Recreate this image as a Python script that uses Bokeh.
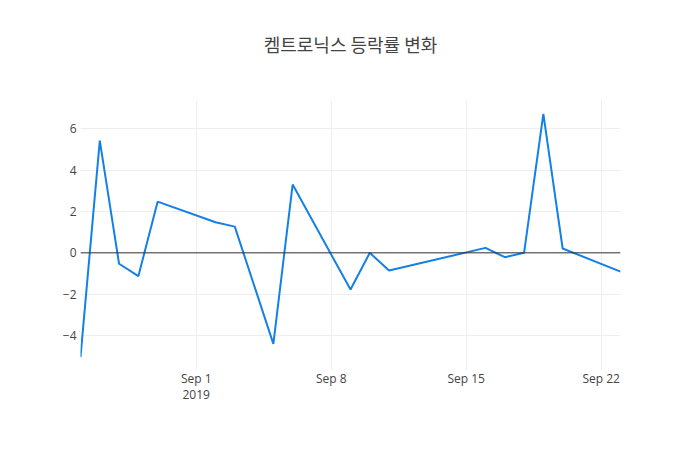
from datetime import datetime

from bokeh.embed import file_html
from bokeh.models import (ColumnDataSource, DatetimeAxis, FixedTicker, LinearAxis,
                          Range1d, Span)
from bokeh.plotting import figure
from bokeh.resources import INLINE

# 켐트로닉스 daily change (%)
dates = ["2019-08-26", "2019-08-27", "2019-08-28", "2019-08-29", "2019-08-30",
         "2019-09-02", "2019-09-03", "2019-09-05", "2019-09-06", "2019-09-09",
         "2019-09-10", "2019-09-11", "2019-09-16", "2019-09-17", "2019-09-18",
         "2019-09-19", "2019-09-20", "2019-09-23"]
change = [-5.05, 5.44, -0.53, -1.13, 2.48,
          1.48, 1.27, -4.41, 3.31, -1.78,
          0.0, -0.86, 0.24, -0.21, 0.0,
          6.73, 0.21, -0.91]

x_ticks = ["2019-09-01", "2019-09-08", "2019-09-15", "2019-09-22"]
x_tick_labels = ["Sep 1", "Sep 8", "Sep 15", "Sep 22"]
year_tick = "2019-09-01"
year_label = "2019"
y_ticks = [-4, -2, 0, 2, 4, 6]

title_text = "켐트로닉스 등락률 변화"
title_font = "Noto Sans CJK KR"
tick_font = "Open Sans"
grey = "#444444"

xs = [datetime.strptime(d, "%Y-%m-%d") for d in dates]
src = ColumnDataSource(data=dict(x=xs, y=change))


def ms(d):
    return datetime.strptime(d, "%Y-%m-%d").timestamp() * 1000


p = figure(width=684, height=434, x_axis_type="datetime",
           x_range=Range1d(xs[0], xs[-1]), y_range=Range1d(-5.70, 7.38),
           output_backend="svg", toolbar_location=None,
           min_border_left=80, min_border_right=64,
           min_border_top=100, min_border_bottom=64)

date_axis = p.xaxis[0]
value_axis = p.yaxis[0]

p.line("x", "y", source=src, line_color="#1380e8", line_width=2)

# zero line
p.add_layout(Span(location=0, dimension="width", line_color="#333333", line_width=1))

p.outline_line_color = None
p.xgrid.grid_line_color = "#eeeeee"
p.ygrid.grid_line_color = "#eeeeee"

date_axis.ticker = FixedTicker(ticks=[ms(d) for d in x_ticks])
date_axis.major_label_overrides = {ms(d): lab for d, lab in zip(x_ticks, x_tick_labels)}
value_axis.ticker = FixedTicker(ticks=y_ticks)
value_axis.major_label_overrides = {t: str(t).replace("-", "\u2212") for t in y_ticks}

# second row of the date axis: the year under Sep 1
year_axis = DatetimeAxis(ticker=FixedTicker(ticks=[ms(year_tick)]),
                         major_label_overrides={ms(year_tick): year_label})
p.add_layout(year_axis, "below")

for ax in (date_axis, year_axis, value_axis):
    ax.axis_line_color = None
    ax.major_tick_line_color = None
    ax.major_tick_out = 0
    ax.major_tick_in = 0
    ax.minor_tick_line_color = None
    ax.minor_tick_out = 0
    ax.major_label_text_font = tick_font
    ax.major_label_text_font_size = "12px"
    ax.major_label_text_color = grey
date_axis.major_label_standoff = -1
year_axis.major_label_standoff = 0
value_axis.major_label_standoff = 4

# title drawn as the label of an empty axis above the frame, so it sits
# high in the top margin without pushing the frame down
title_axis = LinearAxis(ticker=FixedTicker(ticks=[]), axis_label=title_text,
                        axis_line_color=None, major_tick_line_color=None,
                        minor_tick_line_color=None, major_tick_out=0,
                        major_tick_in=0, minor_tick_out=0,
                        major_label_standoff=0,
                        major_label_text_font_size="0px",
                        axis_label_standoff=44,
                        axis_label_text_font=title_font,
                        axis_label_text_font_size="18px",
                        axis_label_text_font_style="normal",
                        axis_label_text_color=grey)
p.add_layout(title_axis, "above")

open("out.html", "w").write(file_html(p, INLINE))
